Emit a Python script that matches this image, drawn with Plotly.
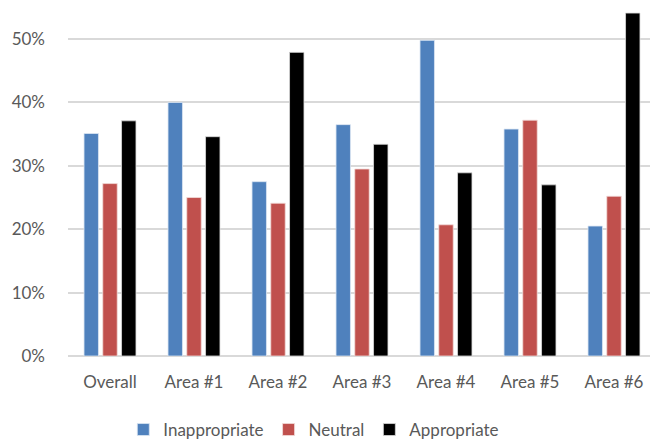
import plotly.graph_objs as go

CATEGORIES = ["Overall", "Area #1", "Area #2", "Area #3", "Area #4", "Area #5", "Area #6"]
INAPPROPRIATE = [0.351, 0.400, 0.275, 0.365, 0.498, 0.358, 0.205]
NEUTRAL = [0.272, 0.250, 0.241, 0.295, 0.207, 0.372, 0.252]
APPROPRIATE = [0.371, 0.346, 0.479, 0.334, 0.289, 0.270, 0.541]

fig = go.Figure()
fig.add_trace(go.Bar(x=CATEGORIES, y=INAPPROPRIATE, name="Inappropriate",
                     marker=dict(color="#4F81BD", line=dict(color="#DCE6F2", width=0.8))))
fig.add_trace(go.Bar(x=CATEGORIES, y=NEUTRAL, name="Neutral",
                     marker=dict(color="#C0504D", line=dict(color="#F2DCDB", width=0.8))))
fig.add_trace(go.Bar(x=CATEGORIES, y=APPROPRIATE, name="Appropriate",
                     marker=dict(color="#000000", line=dict(color="#D9D9D9", width=0.8))))

# page body has an 8px margin, so the figure is a bit smaller than the window
fig.layout = go.Layout(
    barmode="group",
    bargap=0.33,
    bargroupgap=0.23,
    width=650,
    height=434,
    margin=dict(l=60, r=2, t=0, b=86, autoexpand=False),
    paper_bgcolor="white",
    plot_bgcolor="white",
    font=dict(family="Lato", size=17, color="#595959"),
    xaxis=dict(showgrid=False, showline=False, ticks="", ticklabelstandoff=14,
               automargin=False),
    yaxis=dict(range=[0, 0.549], tickvals=[0, 0.1, 0.2, 0.3, 0.4, 0.5],
               tickformat=".0%", gridcolor="#D9D9D9", gridwidth=1.5,
               zeroline=True, zerolinecolor="#D9D9D9", zerolinewidth=1.5,
               ticks="", ticklabelstandoff=22, automargin=False),
    legend=dict(orientation="h", x=0.418, xanchor="center", y=-0.2126, yanchor="middle",
                font=dict(size=17), itemwidth=30, traceorder="normal"),
    showlegend=True,
)
fig.write_html("out.html")
